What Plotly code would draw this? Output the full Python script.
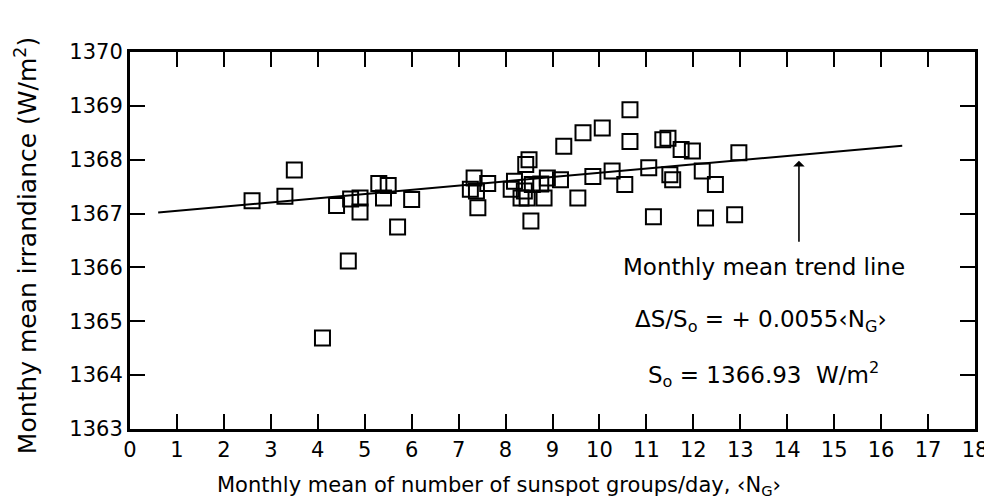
import plotly.graph_objects as go

# 월평균 흑점군 수 <N_G> vs 월평균 일사량 (W/m^2)
ng = [2.6, 3.3, 3.5, 4.1, 4.4, 4.65, 4.7, 4.9, 4.9, 5.3, 5.4, 5.5,
      5.7, 6.0, 7.25, 7.33, 7.38, 7.41, 7.62, 8.12, 8.19, 8.33, 8.4,
      8.43, 8.46, 8.5, 8.54, 8.57, 8.75, 8.82, 8.89, 9.17, 9.24, 9.54,
      9.65, 9.86, 10.06, 10.27, 10.54, 10.65, 10.65, 11.05, 11.15, 11.35,
      11.46, 11.5, 11.56, 11.74, 11.98, 12.19, 12.26, 12.47, 12.88, 12.97]
irr = [1367.24, 1367.32, 1367.81, 1364.69, 1367.15, 1366.12, 1367.27, 1367.29,
       1367.03, 1367.56, 1367.29, 1367.52, 1366.75, 1367.26, 1367.45, 1367.66,
       1367.42, 1367.11, 1367.56, 1367.45, 1367.6, 1367.29, 1367.42, 1367.91,
       1367.29, 1368.0, 1366.86, 1367.54, 1367.55, 1367.29, 1367.66, 1367.63,
       1368.25, 1367.29, 1368.5, 1367.69, 1368.59, 1367.79, 1367.54, 1368.93,
       1368.34, 1367.85, 1366.94, 1368.37, 1368.4, 1367.72, 1367.63, 1368.19,
       1368.16, 1367.79, 1366.92, 1367.54, 1366.98, 1368.13]

trend_x = [0.6, 16.45]
trend_y = [1367.02, 1368.26]

arrow_x = 14.25
arrow_tail_y = 1366.45
arrow_head_y = 1367.98

x_ticks = list(range(0, 19))
y_ticks = list(range(1363, 1371))

FONT = "DejaVu Sans, sans-serif"

fig = go.Figure()
fig.add_trace(go.Scatter(x=trend_x, y=trend_y, mode="lines",
                         line=dict(color="black", width=2), showlegend=False))
fig.add_trace(go.Scatter(x=ng, y=irr, mode="markers", showlegend=False,
                         marker=dict(symbol="square-open", size=15, color="black",
                                     line=dict(color="black", width=2))))

# 추세선 화살표
fig.add_annotation(x=arrow_x, y=arrow_head_y, ax=arrow_x, ay=arrow_tail_y,
                   xref="x", yref="y", axref="x", ayref="y", text="",
                   showarrow=True, arrowhead=1, arrowsize=1.2, arrowwidth=1.6,
                   arrowcolor="black")

txt = dict(xref="x", yref="y", showarrow=False, font=dict(family=FONT, size=23, color="black"))
fig.add_annotation(x=13.5, y=1366.0, text="Monthly mean trend line", **txt)
fig.add_annotation(x=13.45, y=1365.0, text="ΔS/S<sub>o</sub> = + 0.0055‹N<sub>G</sub>›", **txt)
fig.add_annotation(x=13.5, y=1364.02, text="S<sub>o</sub> = 1366.93  W/m<sup>2</sup>", **txt)

# 축 제목
fig.add_annotation(x=0.437, y=0, xref="paper", yref="paper", yshift=-57, showarrow=False,
                   xanchor="center", yanchor="middle",
                   text="Monthly mean of number of sunspot groups/day, ‹N<sub>G</sub>›",
                   font=dict(family=FONT, size=21, color="black"))
fig.add_annotation(x=0, y=0.485, xref="paper", yref="paper", xshift=-104, textangle=-90,
                   xanchor="center", yanchor="middle",
                   showarrow=False, text="Monthy mean irrandiance (W/m<sup>2</sup>)",
                   font=dict(family=FONT, size=25, color="black"))

axis_common = dict(showgrid=False, zeroline=False, showline=True, linecolor="black",
                   linewidth=3, mirror="ticks", ticks="inside", ticklen=15,
                   tickwidth=2, tickcolor="black",
                   tickfont=dict(family=FONT, size=21, color="black"))
fig.update_xaxes(range=[0, 18], tickvals=x_ticks, **axis_common)
fig.update_yaxes(range=[1363, 1370], tickvals=y_ticks, ticksuffix="\u2002", **axis_common)

fig.update_layout(width=992, height=501, margin=dict(l=122, r=17, t=44, b=80),
                  paper_bgcolor="white", plot_bgcolor="white")
fig.write_html("out.html")
